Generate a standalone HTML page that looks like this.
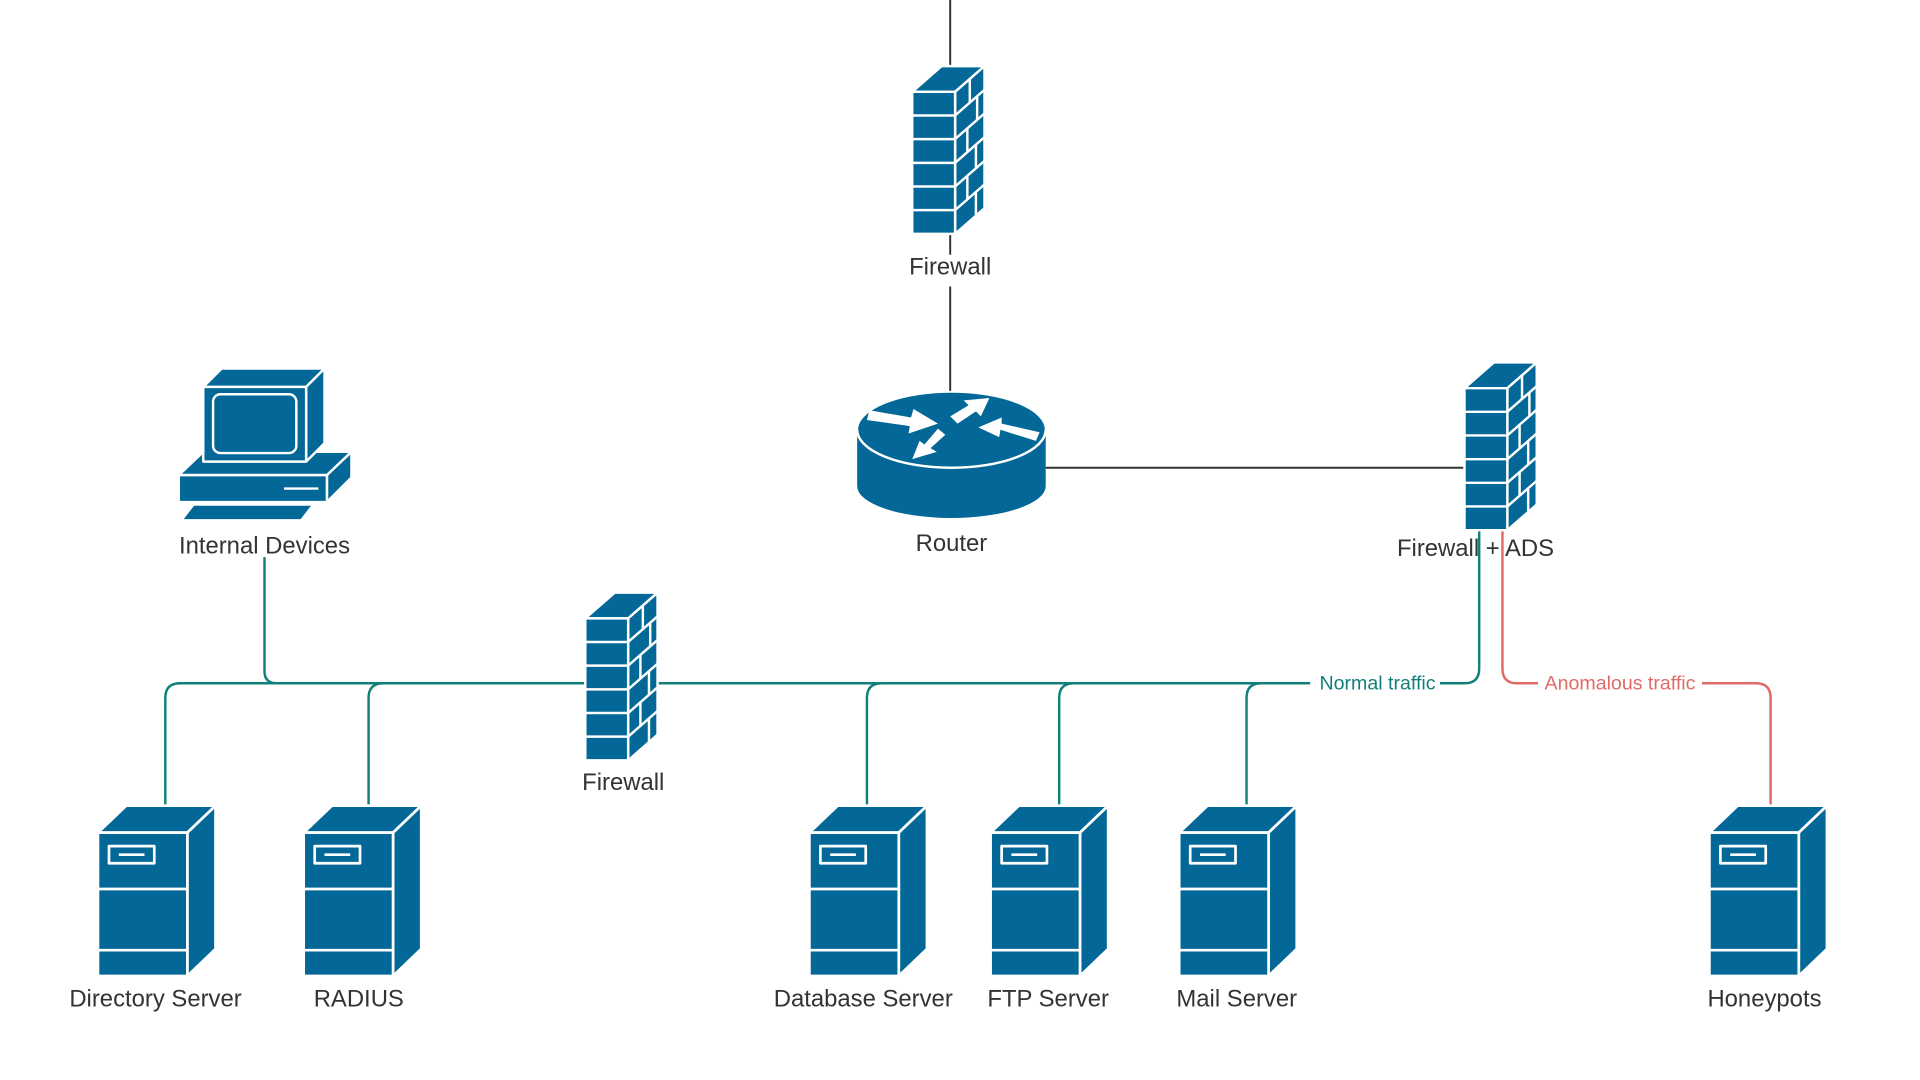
<!DOCTYPE html>
<html><head><meta charset="utf-8"><style>
html,body{margin:0;padding:0;background:#fff;width:1920px;height:1080px;overflow:hidden}
svg{display:block}
text{font-family:"Liberation Sans",sans-serif;font-size:19.5px;fill:#333;text-anchor:middle}
</style></head><body>
<svg width="1920" height="1080" viewBox="0 0 1568 882" xmlns="http://www.w3.org/2000/svg">
<defs>
<g id="srv" stroke="#fff" stroke-width="2.2" stroke-linejoin="round">
<path d="M0,22 L23,0 L96,0 L73,22 Z" fill="#036897"/>
<path d="M73,22 L96,0 L96,117 L73,139 Z" fill="#036897"/>
<rect x="0" y="22" width="73" height="117" fill="#036897"/>
<line x1="0" y1="68" x2="73" y2="68"/>
<line x1="0" y1="118" x2="73" y2="118"/>
<rect x="9" y="33" width="37" height="14" fill="none"/>
<line x1="17" y1="40" x2="38" y2="40"/>
</g>
<g id="fw" stroke="#fff" stroke-width="2" stroke-linejoin="round" fill="#036897">
<path d="M0,21 L24,0 L59,0 L35,21 Z"/>
<path d="M35,21 L59,0 L59,116 L35,137 Z"/>
<rect x="0" y="21" width="35" height="116"/>
<line x1="0" y1="40.3" x2="35" y2="40.3"/>
<line x1="0" y1="59.6" x2="35" y2="59.6"/>
<line x1="0" y1="79" x2="35" y2="79"/>
<line x1="0" y1="98.3" x2="35" y2="98.3"/>
<line x1="0" y1="117.6" x2="35" y2="117.6"/>
<line x1="35" y1="40.3" x2="59" y2="19.3"/>
<line x1="35" y1="59.6" x2="59" y2="38.6"/>
<line x1="35" y1="79" x2="59" y2="58"/>
<line x1="35" y1="98.3" x2="59" y2="77.3"/>
<line x1="35" y1="117.6" x2="59" y2="96.6"/>
<line x1="47" y1="10.5" x2="47" y2="29.8"/>
<line x1="53" y1="24.5" x2="53" y2="43.8"/>
<line x1="45" y1="51" x2="45" y2="70"/>
<line x1="52" y1="64" x2="52" y2="83.6"/>
<line x1="45" y1="90" x2="45" y2="109"/>
<line x1="52" y1="103" x2="52" y2="122"/>
</g>
</defs>

<g stroke="#333" stroke-width="1.6" fill="none">
<line x1="776" y1="0" x2="776" y2="54"/>
<line x1="776" y1="191" x2="776" y2="208"/>
<line x1="776" y1="234" x2="776" y2="322"/>
<line x1="854" y1="382" x2="1196" y2="382"/>
</g>

<g stroke="#12807a" stroke-width="2" fill="none">
<path d="M216,455 L216,548 Q216,558 226,558"/>
<path d="M145,558 L1070,558"/>
<path d="M1176,558 L1196,558 Q1208,558 1208,546 L1208,432"/>
<path d="M135,658 L135,570 Q135,558 147,558"/>
<path d="M301,658 L301,570 Q301,558 313,558"/>
<path d="M708,658 L708,570 Q708,558 720,558"/>
<path d="M865,658 L865,570 Q865,558 877,558"/>
<path d="M1018,658 L1018,570 Q1018,558 1030,558"/>
</g>
<text x="1125" y="563" style="font-size:16px;fill:#12807a">Normal traffic</text>

<g stroke="#e06a67" stroke-width="2" fill="none">
<path d="M1227,432 L1227,546 Q1227,558 1239,558 L1256,558"/>
<path d="M1390,558 L1434,558 Q1446,558 1446,570 L1446,658"/>
</g>
<text x="1323" y="563" style="font-size:16px;fill:#e06a67">Anomalous traffic</text>

<use href="#fw" x="745" y="54"/>
<use href="#fw" x="478" y="484"/>
<use href="#fw" x="1196" y="296"/>

<g>
<path d="M700,351 L700,397 A77,26 0 0 0 854,397 L854,351 Z" fill="#036897"/>
<ellipse cx="777" cy="351" rx="77" ry="31" fill="#036897" stroke="#fff" stroke-width="1.5"/>
<path d="M700,351 A77,31 0 0 0 854,351" fill="none" stroke="#fff" stroke-width="2"/>
<g fill="#fff">
<polygon points="710,335 744,341 746,334 766,346 742,354 743,348 708,343"/>
<polygon points="776,340 791,331 787,327 808,325 801,340 797,336 782,346"/>
<polygon points="846,360 817,351 816,357 799,349 818,341 818,346 849,353"/>
<polygon points="772,355 760,366 765,369 745,375 751,360 755,363 766,350"/>
</g>
</g>

<g stroke="#fff" stroke-width="2" stroke-linejoin="round" fill="#036897">
<path d="M146,388 L166,369 L287,369 L267,388 Z"/>
<path d="M267,388 L287,369 L287,390 L267,410 Z"/>
<rect x="146" y="388" width="121" height="22"/>
<line x1="232" y1="399" x2="260" y2="399"/>
<path d="M166,316 L181,301 L265,301 L250,316 Z"/>
<path d="M250,316 L265,301 L265,362 L250,377 Z"/>
<rect x="166" y="316" width="84" height="61"/>
<rect x="174" y="322" width="68" height="48" rx="6"/>
<path d="M148,425 L158,412 L256,412 L246,425 Z"/>
</g>

<use href="#srv" x="80" y="658"/>
<use href="#srv" x="248" y="658"/>
<use href="#srv" x="661" y="658"/>
<use href="#srv" x="809" y="658"/>
<use href="#srv" x="963" y="658"/>
<use href="#srv" x="1396" y="658"/>

<text x="776" y="224">Firewall</text>
<text x="777" y="450">Router</text>
<text x="216" y="452">Internal Devices</text>
<text x="1205" y="454">Firewall + ADS</text>
<text x="509" y="645">Firewall</text>
<text x="127" y="822">Directory Server</text>
<text x="293" y="822">RADIUS</text>
<text x="705" y="822">Database Server</text>
<text x="856" y="822">FTP Server</text>
<text x="1010" y="822">Mail Server</text>
<text x="1441" y="822">Honeypots</text>
</svg>
</body></html>
